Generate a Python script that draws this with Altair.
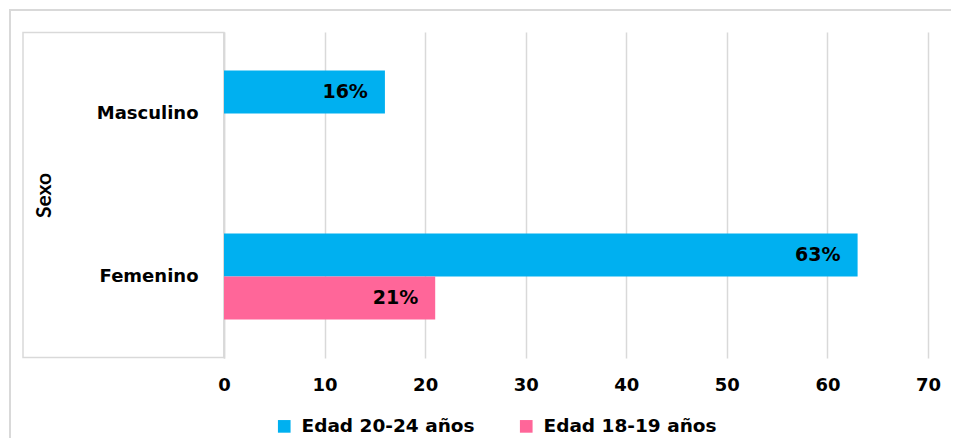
import altair as alt
import pandas as pd

sexo = ["Masculino", "Femenino", "Femenino"]
serie = ["Edad 20-24 años", "Edad 20-24 años", "Edad 18-19 años"]
valor = [16, 63, 21]

categorias = ["Masculino", "Femenino"]
series_orden = ["Edad 20-24 años", "Edad 18-19 años"]
colores = ["#00B0F0", "#FF6699"]
ticks_x = [0, 10, 20, 30, 40, 50, 60, 70]

df = pd.DataFrame({"Sexo": sexo, "Serie": serie, "Valor": valor})

W, H = 704, 326

y_enc = alt.Y("Sexo:N", sort=categorias,
              scale=alt.Scale(paddingInner=0.472, paddingOuter=0.236),
              axis=alt.Axis(title="Sexo", titleFont="Lato", titleFontSize=21, titleFontWeight="bold",
                            titleColor="#000000", titleAngle=-90, titleX=-180, titleY=163,
                            titleAlign="center", titleBaseline="middle", grid=False,
                            labelFont="DejaVu Sans", labelFontSize=18, labelFontWeight="bold",
                            labelColor="#000000", labelPadding=26, ticks=False,
                            domainColor="#d9d9d9", domainWidth=1.5))
x_enc = alt.X("Valor:Q", scale=alt.Scale(domain=[0, 70], nice=False),
              axis=alt.Axis(title=None, values=ticks_x, grid=True, gridColor="#d9d9d9", gridWidth=1.5,
                            domain=False, ticks=False, labelPadding=18, labelFlush=False,
                            labelFont="DejaVu Sans", labelFontSize=18, labelFontWeight="bold",
                            labelColor="#000000"))
yoff = alt.YOffset("Serie:N", sort=series_orden, scale=alt.Scale(domain=series_orden))

bars = alt.Chart(df).mark_bar(size=43).encode(
    y=y_enc, x=x_enc, yOffset=yoff,
    color=alt.Color("Serie:N", scale=alt.Scale(domain=series_orden, range=colores),
                    legend=alt.Legend(title=None, orient="none", direction="horizontal",
                                      legendX=51, legendY=385, symbolType="square", symbolSize=160,
                                      symbolStrokeWidth=0, labelFont="DejaVu Sans", labelFontSize=18.5,
                                      labelFontWeight="bold", labelColor="#000000", labelLimit=400,
                                      labelOffset=8, columnPadding=42)),
)

labels = alt.Chart(df).transform_calculate(
    etiqueta="datum.Valor + '%'"
).mark_text(align="right", baseline="middle", dx=-17, font="DejaVu Sans", fontSize=19,
            fontWeight="bold", color="#000000").encode(
    y=alt.Y("Sexo:N", sort=categorias), x="Valor:Q", yOffset=yoff, text="etiqueta:N"
)

one = alt.Data(values=[{"a": 1}])
deco_color = "#d9d9d9"
outer = alt.Chart(one).mark_rect(filled=False, stroke=deco_color, strokeWidth=2, clip=False).encode(
    x=alt.value(-214), x2=alt.value(733), y=alt.value(-22), y2=alt.value(416))
box = alt.Chart(one).mark_rect(filled=False, stroke=deco_color, strokeWidth=1.5, clip=False).encode(
    x=alt.value(-201), x2=alt.value(-0.2), y=alt.value(0.5), y2=alt.value(H - 0.5))

chart = alt.layer(outer, box, bars, labels).properties(
    width=W, height=H,
    background="#ffffff",
    autosize=alt.AutoSizeParams(type="none"),
    padding={"left": 216, "top": 24, "right": 23, "bottom": 80},
).configure_view(strokeWidth=0, stroke="transparent")

chart.save("out.html", embed_options={"renderer": "svg", "actions": False})
